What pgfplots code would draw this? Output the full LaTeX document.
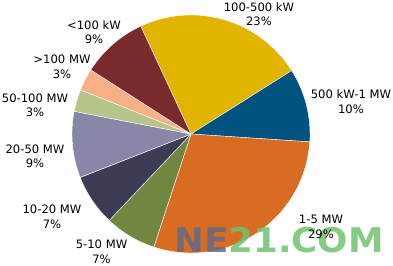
\documentclass[border=0pt]{standalone}
\usepackage{pgfplots}
\pgfplotsset{compat=1.18}
\usepackage{pgfplotstable}
\usepackage{fontspec}
\setmainfont{DejaVu Sans}
\definecolor{cYel}{HTML}{E1B400}
\definecolor{cBlu}{HTML}{00527F}
\definecolor{cOra}{HTML}{D86C22}
\definecolor{cOli}{HTML}{718640}
\definecolor{cNav}{HTML}{3C3C56}
\definecolor{cLav}{HTML}{8887A7}
\definecolor{cLgr}{HTML}{B6C68A}
\definecolor{cPea}{HTML}{F5B083}
\definecolor{cRed}{HTML}{782A2C}
\definecolor{wmBlue}{HTML}{5F6B88}
\definecolor{wmGreen}{HTML}{6EC26E}

% share of each slice, clockwise from the 100-500 kW slice
\pgfplotstableread{
pct col
23 cYel
10 cBlu
29 cOra
7  cOli
7  cNav
9  cLav
3  cLgr
3  cPea
9  cRed
}\piedata

\begin{document}
\begin{tikzpicture}
\begin{axis}[scale only axis, width=393pt, height=265pt,
  xmin=0, xmax=393, ymin=0, ymax=265, hide axis, clip=false]
\pgfplotsextra{
  \gdef\pieang{115}
  \foreach \i in {0,...,8}{
    \pgfplotstablegetelem{\i}{pct}\of\piedata
    \pgfmathsetmacro\pp{\pgfplotsretval}
    \pgfplotstablegetelem{\i}{col}\of\piedata
    \let\mycol\pgfplotsretval
    \pgfmathsetmacro\ee{\pieang-3.6*\pp}
    \fill[fill=\mycol, draw=white, line width=0.4pt, line join=round]
      (axis cs:191,131) -- ([shift={(\pieang:119pt)}]axis cs:191,131)
      arc[start angle=\pieang, end angle=\ee, radius=119pt] -- cycle;
    \xdef\pieang{\ee}
  }
}
\coordinate (SW) at (axis cs:0,0);
\coordinate (NE) at (axis cs:393,265);
\node[anchor=base west, inner sep=0pt, opacity=0.85, xscale=1.05,
  font=\fontsize{34}{34}\selectfont\bfseries]
  at (axis cs:174,13) {\textcolor{wmBlue}{NE}\textcolor{wmGreen}{21.COM}};
\tikzset{lab/.style={align=center, inner sep=0pt, text=black,
  font=\fontsize{11.6}{14.5}\selectfont}}
\node[lab] at (axis cs:259,251) {100-500 kW\\23\%};
\node[lab] at (axis cs:351,163.5) {500 kW-1 MW\\10\%};
\node[lab] at (axis cs:321,38) {1-5 MW\\29\%};
\node[lab] at (axis cs:101.5,13) {5-10 MW\\7\%};
\node[lab] at (axis cs:52,48) {10-20 MW\\7\%};
\node[lab] at (axis cs:35,108.5) {20-50 MW\\9\%};
\node[lab] at (axis cs:35,159.5) {50-100 MW\\3\%};
\node[lab] at (axis cs:62,198) {>100 MW\\3\%};
\node[lab] at (axis cs:94,233) {<100 kW\\9\%};
\end{axis}
\pgfresetboundingbox
\path (SW) rectangle (NE);
\end{tikzpicture}
\end{document}
